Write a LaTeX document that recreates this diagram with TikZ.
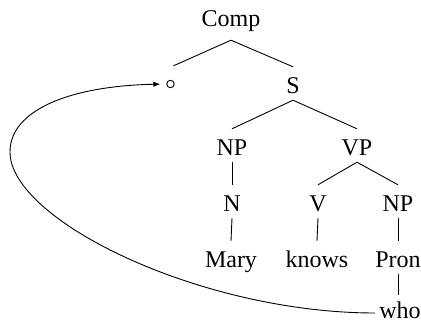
\documentclass[tikz,border=0pt]{standalone}
\usepackage{fontspec}
\setmainfont{Liberation Serif}
\usetikzlibrary{arrows.meta}
\begin{document}
\begin{tikzpicture}[x=1pt,y=-1pt,
  cat/.style={anchor=base, inner xsep=2pt, inner ysep=0pt,
    text height=27pt, text depth=6pt,
    font=\fontsize{24}{28}\selectfont},
  hole/.style={circle, draw, line width=0.9pt, minimum size=7.5pt, inner sep=0pt},
  branch/.style={line width=0.9pt},
  move/.style={line width=0.9pt, -{Latex[length=7pt,width=5.5pt]}, shorten >=6pt}]
\useasboundingbox (0,0) rectangle (421,323);

% tree nodes
\node[cat, text depth=13pt] (comp) at (231,27) {Comp};
\node[hole] (gap) at (170.5,84) {};
\node[cat] (s) at (293,94) {S};
\node[cat] (np1) at (232,156) {NP};
\node[cat] (vp) at (357,156) {VP};
\node[cat] (n) at (232,212) {N};
\node[cat] (v) at (318,212) {V};
\node[cat] (np2) at (398,212) {NP};
\node[cat] (mary) at (231,268) {Mary};
\node[cat] (knows) at (317,268) {knows};
\node[cat] (pron) at (398,268) {Pron};
\node[cat, inner xsep=4pt, text height=24pt] (who) at (400,319) {who};

% branches
\draw[branch] (comp.south) -- ([shift={(3pt,14pt)}]gap.north);
\draw[branch] (comp.south) -- (s.north);
\draw[branch] (s.south) -- (np1.north);
\draw[branch] (s.south) -- (vp.north);
\draw[branch] (np1.south) -- (n.north);
\draw[branch] (vp.south) -- (v.north);
\draw[branch] (vp.south) -- (np2.north);
\draw[branch] (n.south) -- (mary.north);
\draw[branch] (v.south) -- (knows.north);
\draw[branch] (np2.south) -- (pron.north);
\draw[branch] (pron.south) -- (pron.south |- who.north);

% movement arrow from the pronoun back to the empty position
\coordinate (turn) at (10,152);
\draw[move] ([yshift=6pt]who.base west) .. controls (200,313) and (10,220) .. (turn)
  .. controls (10,110) and (70,86) .. (gap.west);
\end{tikzpicture}
\end{document}
